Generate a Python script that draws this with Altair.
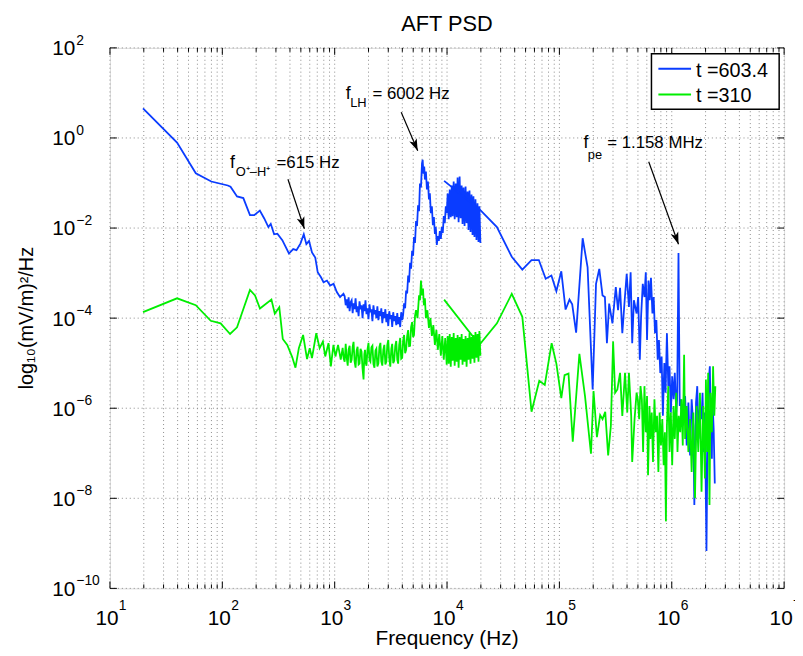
import altair as alt
import pandas as pd

W, H = 681, 546
FONT = "Liberation Sans"
BLUE = "#0a3cff"
GREEN = "#00ee00"
GRID = "#8a8a8a"

series_names = ["t =603.4", "t =310"]
series_colors = [BLUE, GREEN]

# values: (log10 frequency [Hz], log10 PSD [(mV/m)^2/Hz])
blue_lowres = [
    (1.294, 0.659), (1.597, -0.103), (1.764, -0.785), (1.902, -0.967), (2.049, -1.055), (2.073, -1.084),
    (2.131, -1.297), (2.187, -1.334), (2.246, -1.714), (2.284, -1.714), (2.334, -1.611), (2.373, -1.787),
    (2.410, -1.978), (2.431, -1.906), (2.461, -2.138), (2.490, -2.125), (2.534, -2.270), (2.593, -2.565),
    (2.631, -2.468), (2.660, -2.490), (2.695, -2.345), (2.725, -2.138), (2.748, -2.358), (2.772, -2.286),
    (2.798, -2.543), (2.827, -2.653), (2.849, -2.982), (2.878, -3.092), (2.901, -3.202), (2.931, -3.165),
    (2.960, -3.275), (2.990, -3.238), (3.019, -3.422), (3.048, -3.532), (3.078, -3.457),
    (3.089, -3.516), (3.098, -3.714), (3.107, -3.582), (3.116, -3.780), (3.124, -3.538), (3.133, -3.846),
    (3.142, -3.648), (3.151, -3.604), (3.160, -3.890), (3.168, -3.670), (3.177, -3.802), (3.186, -3.560),
    (3.195, -3.868), (3.204, -3.736), (3.213, -3.956), (3.221, -3.626), (3.230, -3.802), (3.239, -3.714),
    (3.248, -4.000), (3.257, -3.692), (3.266, -3.846), (3.274, -3.604), (3.283, -3.912), (3.292, -3.780),
    (3.301, -4.022), (3.310, -3.692), (3.318, -3.868), (3.327, -3.802), (3.336, -4.066), (3.345, -3.714),
    (3.354, -3.912), (3.363, -3.824), (3.371, -4.000), (3.380, -3.736), (3.389, -4.044), (3.398, -3.846),
    (3.407, -3.956), (3.415, -3.780), (3.424, -4.110), (3.433, -3.868), (3.442, -4.000), (3.451, -3.802),
    (3.460, -4.088), (3.468, -3.912), (3.477, -4.176), (3.486, -3.846), (3.495, -4.022), (3.504, -3.934),
    (3.512, -4.198), (3.521, -3.868), (3.530, -4.066), (3.539, -3.956), (3.548, -4.154), (3.557, -3.890),
    (3.565, -4.132), (3.574, -3.978), (3.583, -4.198), (3.592, -3.868), (3.601, -4.044), (3.609, -3.934),
    (3.618, -3.670), (3.627, -3.780), (3.636, -3.385), (3.645, -3.450), (3.654, -3.055), (3.662, -3.209),
    (3.671, -2.769), (3.680, -2.901), (3.689, -2.505), (3.698, -2.615), (3.706, -2.198), (3.715, -2.330),
    (3.724, -1.846), (3.733, -1.956), (3.742, -1.495), (3.751, -1.626), (3.759, -1.011), (3.768, -1.099),
    (3.777, -0.571), (3.783, -0.484), (3.790, -0.791), (3.797, -0.637), (3.803, -0.923), (3.812, -0.747),
    (3.821, -1.143), (3.830, -0.967), (3.839, -1.363), (3.847, -1.231), (3.856, -1.670), (3.865, -1.516),
    (3.874, -1.934), (3.883, -1.758), (3.892, -2.132), (3.900, -1.978), (3.909, -2.374), (3.918, -2.176),
    (3.927, -2.286), (3.936, -2.066), (3.945, -2.242), (3.953, -1.978), (3.962, -2.110), (3.971, -1.736),
    (3.980, -1.890), (3.989, -1.516), (3.997, -1.670),
    (4.006, -1.231), (4.015, -1.802), (4.024, -1.143), (4.033, -1.758), (4.042, -1.055), (4.050, -1.736),
    (4.059, -0.967), (4.068, -1.802), (4.077, -1.011), (4.086, -1.758), (4.094, -0.879), (4.103, -1.868),
    (4.112, -0.857), (4.121, -1.780), (4.130, -1.055), (4.138, -1.912), (4.147, -1.099), (4.156, -1.956),
    (4.165, -1.077), (4.174, -1.890), (4.183, -1.187), (4.191, -2.044), (4.200, -1.165), (4.209, -2.088),
    (4.218, -1.253), (4.227, -2.154), (4.235, -1.297), (4.244, -2.198), (4.253, -1.363), (4.262, -2.264),
    (4.271, -1.451), (4.280, -2.308), (4.288, -1.516), (4.297, -2.330),
]

blue_highres = [
    (3.974, -0.952), (4.288, -1.582), (4.444, -1.978), (4.576, -2.637), (4.670, -2.923), (4.752, -2.710),
    (4.817, -2.710), (4.878, -3.127), (4.929, -3.055), (4.973, -3.400), (5.017, -2.960), (5.055, -3.809),
    (5.090, -3.589), (5.114, -3.692), (5.149, -4.323), (5.207, -2.226), (5.251, -2.873), (5.296, -5.582),
    (5.326, -3.237), (5.355, -2.908), (5.384, -3.495), (5.405, -3.532), (5.423, -4.556), (5.443, -3.677),
    (5.472, -4.116), (5.502, -3.312), (5.522, -3.824), (5.540, -3.325), (5.560, -4.336), (5.581, -3.604),
    (5.599, -3.018), (5.619, -3.752), (5.634, -2.982), (5.648, -4.556), (5.663, -3.604), (5.687, -3.897),
    (5.701, -3.532), (5.716, -4.923), (5.727, -3.971), (5.742, -3.237), (5.757, -3.532), (5.769, -2.982),
    (5.780, -4.484), (5.793, -3.165), (5.804, -3.604), (5.815, -3.106), (5.828, -3.897), (5.839, -3.532),
    (5.851, -4.336), (5.863, -4.044), (5.875, -4.923), (5.886, -4.484), (5.898, -5.215), (5.910, -4.851),
    (5.921, -6.169), (5.934, -4.996), (5.945, -5.655), (5.957, -4.336), (5.969, -5.510), (5.980, -5.070),
    (5.992, -6.095), (6.004, -5.290), (6.016, -5.802), (6.027, -5.215), (6.040, -6.095), (6.048, -5.802),
    (6.060, -2.556), (6.071, -5.949), (6.080, -5.802), (6.098, -6.389), (6.119, -5.730), (6.133, -6.829),
    (6.148, -5.875), (6.163, -7.048), (6.177, -5.802), (6.192, -6.389), (6.201, -8.147), (6.216, -5.875),
    (6.227, -5.510), (6.239, -6.681), (6.251, -5.949), (6.265, -6.242), (6.274, -5.655), (6.286, -6.974),
    (6.295, -6.095), (6.309, -9.172), (6.318, -6.681), (6.330, -5.363), (6.339, -5.070), (6.348, -6.389),
    (6.357, -7.121), (6.362, -5.802), (6.373, -6.462), (6.383, -7.670),
]

green_lowres = [
    (1.294, -3.868), (1.597, -3.560), (1.764, -3.714), (1.897, -4.059), (1.985, -4.116), (2.069, -4.352),
    (2.131, -4.204), (2.246, -3.374), (2.291, -3.495), (2.335, -3.787), (2.437, -3.589), (2.467, -3.901),
    (2.507, -3.758), (2.538, -4.462), (2.578, -4.593), (2.622, -4.864), (2.651, -5.099), (2.681, -4.666),
    (2.719, -4.374), (2.754, -4.908), (2.778, -4.666), (2.798, -4.886), (2.836, -4.336), (2.866, -4.666),
    (2.895, -4.521), (2.916, -4.851), (2.945, -4.556), (2.966, -5.070), (2.989, -4.593), (3.007, -4.851),
    (3.030, -4.593), (3.054, -4.923), (3.071, -4.659),
    (3.080, -4.900), (3.089, -4.967), (3.098, -4.571), (3.107, -4.880), (3.116, -5.055), (3.124, -4.700),
    (3.133, -4.615), (3.142, -4.990), (3.151, -4.923), (3.160, -4.640), (3.168, -4.527), (3.177, -4.960),
    (3.186, -5.099), (3.195, -4.720), (3.204, -4.637), (3.213, -5.030), (3.221, -5.011), (3.230, -4.680),
    (3.239, -4.747), (3.248, -5.120), (3.257, -5.363), (3.264, -4.800), (3.270, -4.703), (3.276, -4.990),
    (3.283, -5.055), (3.292, -4.700), (3.301, -4.549), (3.310, -4.930), (3.318, -4.967), (3.327, -4.650),
    (3.336, -4.615), (3.345, -5.020), (3.354, -5.099), (3.363, -4.720), (3.371, -4.681), (3.380, -5.070),
    (3.389, -5.011), (3.398, -4.640), (3.407, -4.549), (3.415, -4.960), (3.424, -5.055), (3.433, -4.700),
    (3.442, -4.593), (3.451, -5.030), (3.460, -4.967), (3.468, -4.600), (3.477, -4.484), (3.486, -4.900),
    (3.495, -5.077), (3.504, -4.680), (3.512, -4.571), (3.521, -5.000), (3.530, -4.945), (3.539, -4.620),
    (3.548, -4.506), (3.557, -4.920), (3.565, -5.011), (3.574, -4.600), (3.583, -4.440), (3.592, -4.900),
    (3.601, -4.879), (3.609, -4.500), (3.618, -4.374), (3.627, -4.780), (3.636, -4.703), (3.645, -4.400),
    (3.654, -4.264), (3.662, -4.620), (3.671, -4.615), (3.680, -4.200), (3.689, -4.088), (3.698, -4.420),
    (3.706, -4.374), (3.715, -3.950), (3.724, -3.824), (3.737, -4.000), (3.751, -3.495), (3.759, -3.604),
    (3.768, -3.165), (3.777, -3.495), (3.786, -3.341), (3.794, -3.714), (3.803, -3.560), (3.812, -4.000),
    (3.825, -3.824), (3.839, -4.220), (3.852, -4.000), (3.865, -4.396), (3.878, -4.154), (3.892, -4.593),
    (3.905, -4.264), (3.918, -4.703), (3.931, -4.352), (3.945, -4.835), (3.958, -4.396), (3.971, -4.923),
    (3.984, -4.440), (3.997, -5.033),
    (4.006, -4.396), (4.015, -5.011), (4.024, -4.352), (4.033, -5.077), (4.042, -4.418), (4.050, -4.945),
    (4.059, -4.330), (4.068, -5.055), (4.077, -4.440), (4.086, -4.967), (4.094, -4.374), (4.103, -5.099),
    (4.112, -4.418), (4.121, -4.923), (4.130, -4.352), (4.138, -5.033), (4.147, -4.462), (4.156, -4.967),
    (4.165, -4.396), (4.174, -5.077), (4.183, -4.440), (4.191, -4.923), (4.200, -4.330), (4.209, -5.011),
    (4.218, -4.418), (4.227, -4.901), (4.235, -4.374), (4.244, -4.989), (4.253, -4.308), (4.262, -4.879),
    (4.271, -4.352), (4.280, -4.967), (4.288, -4.286), (4.297, -4.835),
]

green_highres = [
    (3.974, -3.589), (4.288, -4.593), (4.444, -4.116), (4.576, -3.462), (4.670, -3.971), (4.752, -6.077),
    (4.821, -5.389), (4.870, -5.484), (4.931, -4.556), (4.973, -5.011), (5.017, -5.776), (5.046, -5.264),
    (5.081, -5.231), (5.119, -6.741), (5.178, -4.791), (5.228, -5.730), (5.281, -7.011), (5.304, -5.620),
    (5.334, -6.644), (5.363, -6.154), (5.384, -6.242), (5.408, -6.081), (5.434, -7.048), (5.458, -6.389),
    (5.478, -4.521), (5.496, -5.655), (5.516, -5.582), (5.540, -5.215), (5.560, -6.169), (5.584, -5.215),
    (5.604, -6.095), (5.619, -5.215), (5.639, -6.169), (5.648, -7.193), (5.669, -6.242), (5.687, -5.655),
    (5.698, -5.802), (5.710, -6.242), (5.722, -5.510), (5.734, -5.802), (5.745, -6.974), (5.757, -5.510),
    (5.769, -6.534), (5.780, -5.730), (5.789, -7.488), (5.802, -5.949), (5.810, -6.681), (5.822, -6.095),
    (5.833, -7.193), (5.846, -5.802), (5.857, -6.534), (5.869, -6.169), (5.881, -7.413), (5.892, -6.095),
    (5.904, -6.829), (5.916, -6.242), (5.928, -7.268), (5.939, -6.534), (5.948, -8.512), (5.957, -6.389),
    (5.969, -5.510), (5.980, -6.974), (5.992, -6.095), (6.004, -7.268), (6.016, -5.949), (6.027, -6.681),
    (6.040, -5.655), (6.051, -6.974), (6.062, -6.169), (6.075, -6.534), (6.086, -5.802), (6.098, -6.829),
    (6.110, -4.813), (6.119, -6.681), (6.133, -5.949), (6.148, -6.974), (6.163, -6.242), (6.177, -7.413),
    (6.192, -6.095), (6.207, -8.000), (6.221, -5.949), (6.236, -6.974), (6.251, -5.655), (6.265, -7.853),
    (6.280, -5.949), (6.295, -7.560), (6.304, -5.363), (6.315, -6.974), (6.324, -5.215), (6.336, -8.147),
    (6.345, -5.655), (6.357, -6.534), (6.368, -5.070), (6.379, -6.169), (6.388, -5.510),
]

# axes
x_label_exps = [1, 2, 3, 4, 5, 6, 7]
y_label_exps = [2, 0, -2, -4, -6, -8, -10]
x_minor_mult = [2, 3, 4, 5, 6, 7, 8, 9]

# annotations: arrows (from log-f, log-p) -> (to log-f, log-p), head angle
arrow_from = [(2.584, -0.917), (3.592, 0.571), (5.795, -0.527)]
arrow_to = [(2.730, -2.015), (3.739, -0.286), (6.060, -2.358)]
arrow_angle = [161.6, 156.8, 160.4]
# annotation text pieces: (log-f, log-p, text, font size)
ann_text = [
    (2.069, -0.659, "f", 18), (2.120, -0.835, "O\u207a\u2013H\u207a", 13), (2.482, -0.659, "=615 Hz", 17),
    (3.098, 0.857, "f", 18), (3.138, 0.681, "LH", 13), (3.336, 0.857, "= 6002 Hz", 17),
    (5.214, -0.231, "f", 18), (5.253, -0.462, "pe", 13), (5.425, -0.231, "= 1.158 MHz", 17),
]


def series_frame(low, high, name):
    rows = []
    for seg, pts in enumerate([low, high]):
        for k, (a, b) in enumerate(pts):
            rows.append({"f": 10 ** a, "psd": 10 ** b, "i": k, "seg": seg, "series": name})
    return pd.DataFrame(rows)


df_blue = series_frame(blue_lowres, blue_highres, series_names[0])
df_green = series_frame(green_lowres, green_highres, series_names[1])

xs = alt.Scale(type="log", domain=[10, 1e7], nice=False)
ys = alt.Scale(type="log", domain=[1e-10, 1e2], nice=False)


def xv(field="v"):
    return alt.X(f"{field}:Q", scale=xs, axis=None)


def yv(field="v"):
    return alt.Y(f"{field}:Q", scale=ys, axis=None)


x_major = [10.0 ** d for d in x_label_exps]
x_minor = [m * 10.0 ** d for d in range(1, 7) for m in x_minor_mult]
y_major = [10.0 ** e for e in y_label_exps]

df_xmaj = pd.DataFrame({"v": x_major, "e": [str(e) for e in x_label_exps]})
df_xmin = pd.DataFrame({"v": x_minor})
df_xgrid = pd.DataFrame({"v": x_major + x_minor})
df_ymaj = pd.DataFrame({"v": y_major, "e": [str(e).replace("-", "\u2212") for e in y_label_exps]})
one = pd.DataFrame({"a": [0]})

color = alt.Color("series:N", scale=alt.Scale(domain=series_names, range=series_colors), legend=None)

grid_layers = [
    alt.Chart(df_xgrid).mark_rule(color=GRID, strokeWidth=1, strokeDash=[1, 3]).encode(
        x=xv(), y=alt.value(0), y2=alt.value(H)),
    alt.Chart(df_ymaj).mark_rule(color=GRID, strokeWidth=1, strokeDash=[1, 3]).encode(
        y=yv(), x=alt.value(0), x2=alt.value(W)),
]

blue_line = alt.Chart(df_blue).mark_line(strokeWidth=1.8).encode(
    x=xv("f"), y=yv("psd"), color=color, detail="seg:N", order=alt.Order("i:Q")
)
green_line = alt.Chart(df_green).mark_line(strokeWidth=1.8).encode(
    x=xv("f"), y=yv("psd"), color=color, detail="seg:N", order=alt.Order("i:Q")
)

tick_layers = [
    alt.Chart(df_xmaj).mark_rule(color="black", strokeWidth=1).encode(x=xv(), y=alt.value(H), y2=alt.value(H - 7)),
    alt.Chart(df_xmaj).mark_rule(color="black", strokeWidth=1).encode(x=xv(), y=alt.value(0), y2=alt.value(7)),
    alt.Chart(df_xmin).mark_rule(color="black", strokeWidth=1).encode(x=xv(), y=alt.value(H), y2=alt.value(H - 4)),
    alt.Chart(df_xmin).mark_rule(color="black", strokeWidth=1).encode(x=xv(), y=alt.value(0), y2=alt.value(4)),
    alt.Chart(df_ymaj).mark_rule(color="black", strokeWidth=1).encode(y=yv(), x=alt.value(0), x2=alt.value(7)),
    alt.Chart(df_ymaj).mark_rule(color="black", strokeWidth=1).encode(y=yv(), x=alt.value(W), x2=alt.value(W - 7)),
]

label_layers = [
    alt.Chart(df_xmaj).mark_text(font=FONT, fontSize=21, align="center", baseline="alphabetic", dx=-3, color="black")
    .encode(x=xv(), y=alt.value(583), text=alt.value("10")),
    alt.Chart(df_xmaj).mark_text(font=FONT, fontSize=14, align="left", baseline="alphabetic", dx=9, color="black")
    .encode(x=xv(), y=alt.value(568), text="e:N"),
    alt.Chart(df_ymaj).mark_text(font=FONT, fontSize=21, align="right", baseline="alphabetic", dy=7.5, color="black")
    .encode(y=yv(), x=alt.value(-35), text=alt.value("10")),
    alt.Chart(df_ymaj).mark_text(font=FONT, fontSize=14, align="left", baseline="alphabetic", dy=-3, color="black")
    .encode(y=yv(), x=alt.value(-34), text="e:N"),
]

title_layers = [
    alt.Chart(one).mark_text(font=FONT, fontSize=22, align="center", baseline="alphabetic", color="black")
    .encode(x=alt.value(W / 2), y=alt.value(-17), text=alt.value("AFT PSD")),
    alt.Chart(one).mark_text(font=FONT, fontSize=21, align="center", baseline="alphabetic", color="black")
    .encode(x=alt.value(W / 2), y=alt.value(H + 57), text=alt.value("Frequency (Hz)")),
    alt.Chart(one).mark_text(font=FONT, fontSize=20, align="center", baseline="alphabetic", color="black", angle=270)
    .encode(x=alt.value(-78), y=alt.value(H / 2), text=alt.value("log\u2081\u2080(mV/m)\u00b2/Hz")),
]

df_arrow = pd.DataFrame({
    "f": [10 ** a for a, b in arrow_from], "p": [10 ** b for a, b in arrow_from],
    "f2": [10 ** a for a, b in arrow_to], "p2": [10 ** b for a, b in arrow_to],
    "ang": arrow_angle,
})
ARROW = "M0,0L0.6,1.8L0,1.35L-0.6,1.8Z"
arrow_lines = alt.Chart(df_arrow).mark_rule(color="black", strokeWidth=1.2).encode(
    x=xv("f"), y=yv("p"), x2="f2:Q", y2="p2:Q"
)
arrow_heads = alt.Chart(df_arrow).mark_point(shape=ARROW, filled=True, size=180, color="black", opacity=1).encode(
    x=xv("f2"), y=yv("p2"), angle=alt.Angle("ang:Q", scale=None),
)

df_ann = pd.DataFrame({
    "f": [10 ** t[0] for t in ann_text], "p": [10 ** t[1] for t in ann_text],
    "t": [t[2] for t in ann_text], "fs": [t[3] for t in ann_text],
})
ann_layer = alt.Chart(df_ann).mark_text(font=FONT, align="left", baseline="alphabetic", color="black").encode(
    x=xv("f"), y=yv("p"), text="t:N", size=alt.Size("fs:Q", scale=None, legend=None),
)

# legend box (top-right, inside the plot)
legend_layers = [
    alt.Chart(one).mark_rect(fill="white", stroke="black", strokeWidth=1.5).encode(
        x=alt.value(547), x2=alt.value(676), y=alt.value(6), y2=alt.value(62)),
]
for k, (name, col) in enumerate(zip(series_names, series_colors)):
    ly = 21 + 26 * k
    legend_layers.append(
        alt.Chart(one).mark_rule(color=col, strokeWidth=2).encode(
            x=alt.value(554), x2=alt.value(587), y=alt.value(ly), y2=alt.value(ly)))
    legend_layers.append(
        alt.Chart(one).mark_text(font=FONT, fontSize=20, align="left", baseline="alphabetic", color="black").encode(
            x=alt.value(592), y=alt.value(ly + 8), text=alt.value(name)))

chart = alt.layer(
    *grid_layers, blue_line, green_line, *tick_layers, *label_layers, *title_layers,
    arrow_lines, arrow_heads, ann_layer, *legend_layers
).properties(
    width=W, height=H,
    autosize=alt.AutoSizeParams(type="none"),
    padding={"left": 103, "top": 37, "right": 11, "bottom": 64},
).configure_view(stroke="black", strokeWidth=1.5).configure(font=FONT)

chart.save("out.html", embed_options={"renderer": "svg", "actions": False})
